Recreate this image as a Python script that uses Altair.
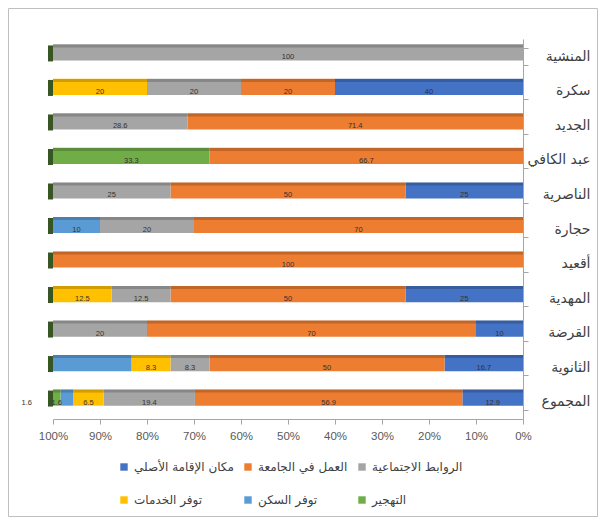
import altair as alt
import pandas as pd

cats = ['المنشية', 'سكرة', 'الجديد', 'عبد الكافي', 'الناصرية', 'حجارة',
        'أقعيد', 'المهدية', 'القرضة', 'الثانوية', 'المجموع']
series = ['مكان الإقامة الأصلي', 'العمل في الجامعة', 'الروابط الاجتماعية',
          'توفر الخدمات', 'توفر السكن', 'التهجير']
colors = ['#4472C4', '#ED7D31', '#A5A5A5', '#FFC000', '#5B9BD5', '#70AD47']

origin = [0, 40, 0, 0, 25, 0, 0, 25, 10, 16.7, 12.9]
work = [0, 20, 71.4, 66.7, 50, 70, 100, 50, 70, 50, 56.9]
social = [100, 20, 28.6, 0, 25, 20, 0, 12.5, 20, 8.3, 19.4]
services = [0, 20, 0, 0, 0, 0, 0, 12.5, 0, 8.3, 6.5]
housing = [0, 0, 0, 0, 0, 10, 0, 0, 0, 16.7, 2.7]
displaced = [0, 0, 0, 33.3, 0, 0, 0, 0, 0, 0, 1.6]

# labels not shown in the reference / label drawn outside the bar
hidden = [('الثانوية', 'توفر السكن'), ('المجموع', 'توفر السكن')]
outside = [('المجموع', 'التهجير')]

rows = []
for si, (s, vals) in enumerate(zip(series, [origin, work, social, services, housing, displaced])):
    for c, v in zip(cats, vals):
        if v > 0:
            rows.append({'cat': c, 'series': s, 'ord': si, 'value': v,
                         'lab': 0 if (c, s) in hidden else 1,
                         'out': 1 if (c, s) in outside else 0})
df = pd.DataFrame(rows)

xscale = alt.Scale(domain=[0, 100], reverse=True, nice=False)
yscale = alt.Scale(paddingInner=0.53, paddingOuter=0.27)
Y = alt.Y('cat:N', sort=cats, scale=yscale)

base = alt.Chart(df).transform_stack(
    stack='value', groupby=['cat'],
    sort=[alt.SortField('ord', order='ascending')], as_=['v0', 'v1']
).transform_calculate(mid='(datum.v0 + datum.v1) / 2')

bars = base.mark_bar(yOffset=-4).encode(
    x=alt.X('v0:Q', scale=xscale,
            axis=alt.Axis(values=list(range(0, 101, 10)), labelExpr="datum.value + '%'",
                          title=None, grid=False, tickSize=5, domainColor='#A6A6A6',
                          tickColor='#A6A6A6', labelFont='Liberation Sans', labelFontSize=11.5,
                          labelColor='#595959', labelPadding=6, labelFlush=False)),
    x2='v1:Q',
    y=alt.Y('cat:N', sort=cats, scale=yscale,
            axis=alt.Axis(orient='right', title=None, tickBand='extent', tickSize=5,
                          domainColor='#A6A6A6', tickColor='#A6A6A6',
                          labelAlign='right', labelPadding=62, labelFont='DejaVu Sans',
                          labelFontSize=14, labelColor='#404040')),
    color=alt.Color('series:N', scale=alt.Scale(domain=series, range=colors),
                    legend=alt.Legend(title=None, orient='none', legendX=65, legendY=422,
                                      columns=3, direction='horizontal', symbolType='square',
                                      symbolSize=55, labelFont='DejaVu Sans', labelFontSize=12,
                                      labelColor='#404040', rowPadding=21, columnPadding=8,
                                      symbolStrokeWidth=0)),
)

# darker top strip (3-D look)
tops = base.mark_bar(size=3, yOffset=-10.5, color='#000000', opacity=0.18).encode(
    x=alt.X('v0:Q', scale=xscale), x2='v1:Q', y=Y)

# dark side face at the 100% end
side = base.transform_filter('datum.v1 > 99.9').mark_bar(
    size=16, xOffset=-5, x2Offset=0, yOffset=-3, color='#375623'
).encode(x=alt.X('v1:Q', scale=xscale), x2='v1:Q', y=Y)

labels = base.transform_filter('datum.lab == 1').mark_text(
    font='Liberation Sans', fontSize=7.5, color='#333333', baseline='middle', dy=1
).encode(x=alt.X('mid:Q', scale=xscale), y=Y, text=alt.Text('value:Q'))

out_labels = base.transform_filter('datum.out == 1').mark_text(
    font='Liberation Sans', fontSize=7.5, color='#333333', baseline='middle', align='right',
    dx=-21, dy=1
).encode(x=alt.X('v1:Q', scale=xscale), y=Y, text=alt.Text('value:Q'))

frame = alt.Chart(pd.DataFrame({'a': [0]})).mark_rect(
    fillOpacity=0, stroke='#BFBFBF', strokeWidth=1
).encode(x=alt.value(-44.5), x2=alt.value(544.5), y=alt.value(-30.5), y2=alt.value(477.5))

chart = alt.layer(frame, bars, tops, side, labels, out_labels).properties(
    width=470, height=380,
    autosize=alt.AutoSizeParams(type='none'),
    padding={'left': 45, 'top': 31, 'right': 75, 'bottom': 98},
).configure_view(stroke=None)

chart.save('out.html', embed_options={'renderer': 'svg', 'actions': False})
